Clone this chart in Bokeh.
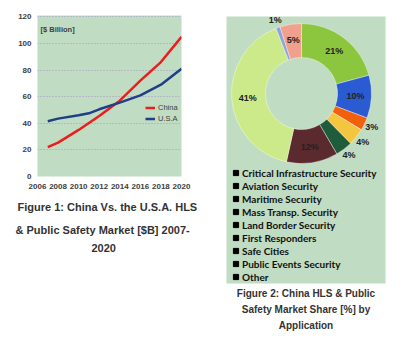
import math
from bokeh.plotting import figure
from bokeh.layouts import row, column
from bokeh.models import Range1d, FixedTicker, Legend, LegendItem, Label, ColumnDataSource, Title
from bokeh.embed import file_html
from bokeh.resources import INLINE

# ---------------- data ----------------
china_years = [2007, 2008, 2010, 2012, 2014, 2016, 2018, 2020]
china_values = [22, 25.5, 35, 45.5, 57, 72, 86, 105]
usa_years = [2007, 2008, 2010, 2011, 2012, 2014, 2016, 2018, 2020]
usa_values = [41.5, 43.5, 46, 47.5, 50.5, 55.5, 61, 69, 81]
x_ticks = [2006, 2008, 2010, 2012, 2014, 2016, 2018, 2020]
y_ticks = [0, 20, 40, 60, 80, 100, 120]

categories = ["Critical Infrastructure Security", "Aviation Security", "Maritime Security",
              "Mass Transp. Security", "Land Border Security", "First Responders",
              "Safe Cities", "Public Events Security", "Other"]
shares = [21, 10, 3, 4, 4, 12, 41, 1, 5]
slice_colors = ["#8cc63e", "#2b5bd3", "#f2600e", "#f4c640", "#1f5c3c",
                "#5a2a2e", "#cdea8a", "#8fa3da", "#f0a08c"]

cap1_lines = ["Figure 1: China Vs. the U.S.A. HLS", "& Public Safety Market [$B] 2007-", "2020"]
cap2_lines = ["Figure 2: China HLS & Public", "Safety Market Share [%] by", "Application"]

BG = "#c0dcc2"
CAP = "#333333"

# ---------------- left: line chart ----------------
p1 = figure(width=205, height=342, output_backend="svg", toolbar_location=None,
            x_range=Range1d(2006, 2020), y_range=Range1d(0, 121),
            min_border_left=37, min_border_right=24, min_border_top=15, min_border_bottom=166)
p1.background_fill_color = BG
p1.border_fill_color = "white"
p1.outline_line_color = None
p1.xgrid.grid_line_color = None
p1.ygrid.grid_line_color = "#a696c8"
p1.ygrid.grid_line_dash = "1 2"
p1.ygrid.grid_line_width = 1
p1.xaxis.ticker = FixedTicker(ticks=x_ticks)
p1.yaxis.ticker = FixedTicker(ticks=y_ticks)
for ax in (p1.xaxis[0], p1.yaxis[0]):
    ax.axis_line_color = None
    ax.major_tick_line_color = None
    ax.minor_tick_line_color = None
    ax.major_tick_out = 0
    ax.major_tick_in = 0
    ax.minor_tick_out = 0
    ax.major_label_text_font = "Liberation Sans"
    ax.major_label_text_font_style = "bold"
    ax.major_label_text_font_size = "8px"
    ax.major_label_text_color = "#404040"
p1.yaxis[0].major_label_standoff = 6
p1.xaxis[0].major_label_standoff = 7

r_china = p1.line(china_years, china_values, line_color="#ee1c1c", line_width=2.5)
r_usa = p1.line(usa_years, usa_values, line_color="#1f3f86", line_width=2.5)

leg1 = Legend(items=[LegendItem(label="China", renderers=[r_china]),
                     LegendItem(label="U.S.A", renderers=[r_usa])],
              location=(108, 52), padding=0, margin=0, spacing=0,
              glyph_width=10, glyph_height=11, label_height=11, label_standoff=3,
              background_fill_alpha=0, border_line_alpha=0,
              label_text_font="Liberation Sans", label_text_font_size="7.5px",
              label_text_color="#404040")
p1.add_layout(leg1)

p1.add_layout(Label(x=3, y=147, x_units="screen", y_units="screen", text="[$ Billion]",
                    text_font="Liberation Sans", text_font_style="bold", text_font_size="7.5px",
                    text_color="#404040", text_baseline="middle"))

for t, so, off in zip(cap1_lines, [14, 4, 8], [-20, -22, 54]):
    p1.add_layout(Title(text=t, align="left", offset=off, standoff=so,
                        text_font="Liberation Sans", text_font_style="bold",
                        text_font_size="11px", text_color=CAP), "below")

# ---------------- right: donut ----------------
p2 = figure(width=206, height=342, output_backend="svg", toolbar_location=None,
            x_range=Range1d(0, 159), y_range=Range1d(0, 267),
            min_border_left=21, min_border_right=26, min_border_top=16, min_border_bottom=59)
p2.background_fill_color = BG
p2.border_fill_color = "white"
p2.outline_line_color = None
p2.axis.visible = False
p2.grid.visible = False

total = float(sum(shares))
starts, ends, lx, ly, labels = [], [], [], [], []
cx, cy = 75, 190
cum = 0.0
for s in shares:
    a0 = math.pi / 2 - 2 * math.pi * cum / total
    a1 = math.pi / 2 - 2 * math.pi * (cum + s) / total
    mid = (a0 + a1) / 2
    rr = 54 if s >= 5 else 78
    starts.append(a0)
    ends.append(a1)
    lx.append(cx + rr * math.cos(mid))
    ly.append(cy + rr * math.sin(mid))
    labels.append(f"{s}%")
    cum += s

src = ColumnDataSource(dict(start=starts, end=ends, color=slice_colors, cat=categories))
p2.annular_wedge(x=cx, y=cy, inner_radius=36, outer_radius=70, start_angle="start",
                 end_angle="end", direction="clock", fill_color="color",
                 line_color="white", line_width=0.4, source=src)
p2.text(x=lx, y=ly, text=labels, text_align="center", text_baseline="middle",
        text_font_size="9px", text_font_style="bold", text_color="#222222",
        text_font={"value": "Liberation Sans"})

marker = p2.scatter(x=[-1000], y=[-1000], marker="square", size=6, color="black")
leg2 = Legend(items=[LegendItem(label=c, renderers=[marker]) for c in categories],
              location=(3, 0), padding=0, margin=0, spacing=0,
              glyph_width=13, glyph_height=13, label_height=13, label_standoff=0,
              background_fill_alpha=0, border_line_alpha=0,
              label_text_font="Lato", label_text_font_style="bold", label_text_font_size="10px",
              label_text_color="#111111")
p2.add_layout(leg2)

for t, so in zip(cap2_lines, [4, 3, 3]):
    p2.add_layout(Title(text=t, align="center", standoff=so,
                        text_font="Liberation Sans", text_font_style="bold",
                        text_font_size="10px", text_color=CAP), "below")

layout = row(p1, column(p2), spacing=0)
open("out.html", "w").write(file_html(layout, INLINE))
